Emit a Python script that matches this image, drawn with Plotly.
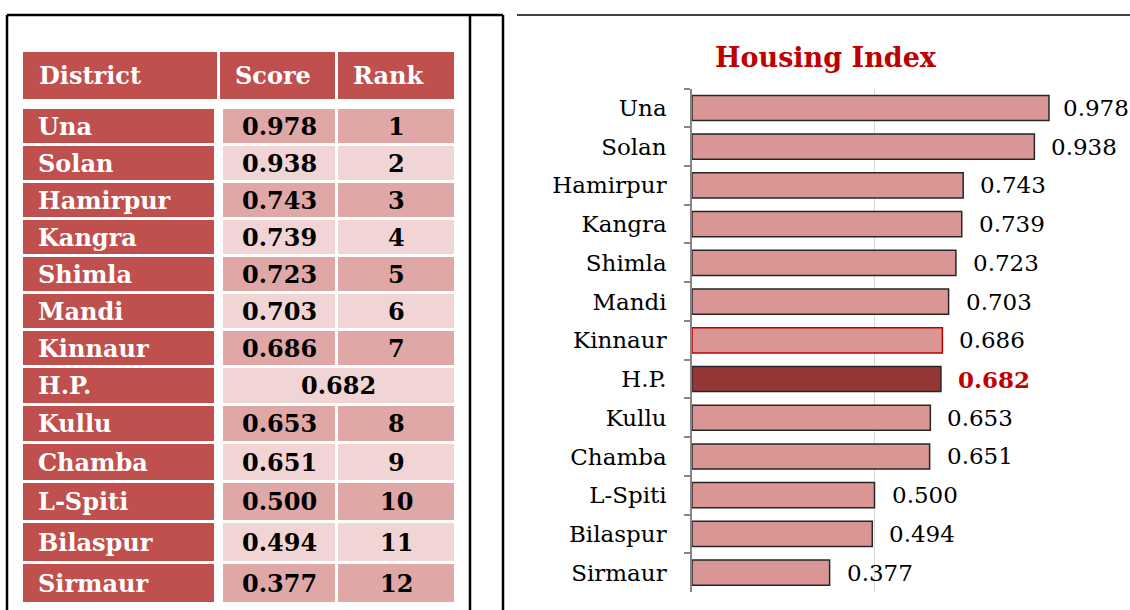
import plotly.graph_objects as go

# ---------------- data ----------------
districts = ["Una", "Solan", "Hamirpur", "Kangra", "Shimla", "Mandi", "Kinnaur",
             "H.P.", "Kullu", "Chamba", "L-Spiti", "Bilaspur", "Sirmaur"]
scores = [0.978, 0.938, 0.743, 0.739, 0.723, 0.703, 0.686,
          0.682, 0.653, 0.651, 0.500, 0.494, 0.377]
ranks = ["1", "2", "3", "4", "5", "6", "7", "", "8", "9", "10", "11", "12"]
headers = ["District", "Score", "Rank"]
state_label = "H.P."
outlined_district = "Kinnaur"
chart_title = "Housing Index"

# ---------------- styles ----------------
W, H = 1130, 610
FONT = "DejaVu Serif"
RED_HDR = "#C0504D"
CELL_DARK = "#DFA7A6"
CELL_LIGHT = "#F0D5D4"
BAR_FILL = "#D99694"
BAR_STATE = "#953735"
TITLE_RED = "#C00000"

# table layout (pixel units on a hidden full-page axis)
HDR_TOP, HDR_BOT = 52, 99
HDR_COLS = [(23, 217), (220, 335), (338, 454)]
ROW_COLS = [(23, 214), (223, 335), (338, 454)]
ROW_TOPS = [109, 146, 183, 220, 257, 294, 331, 368, 406, 444, 483, 523, 564]
TABLE_BOTTOM = 602
ROW_GAP = 3

# bar-chart plot area (pixels)
PX_L, PX_R = 692, 1057
PY_T, PY_B = 88.6, 592

fig = go.Figure()

bar_colors = [BAR_STATE if d == state_label else BAR_FILL for d in districts]
line_colors = ["#C00000" if d == outlined_district else "#262626" for d in districts]

fig.add_trace(go.Bar(
    x=scores, y=districts, orientation="h", xaxis="x", yaxis="y",
    marker=dict(color=bar_colors, line=dict(color=line_colors, width=1.5)),
    hoverinfo="x+y", showlegend=False,
))

# value labels
for d, s in zip(districts, scores):
    is_state = d == state_label
    fig.add_annotation(
        x=s, y=d, xref="x", yref="y", text=f"{s:.3f}", showarrow=False,
        xanchor="left", xshift=12 if s > 0.95 else 15,
        font=dict(family=FONT, size=23, color=TITLE_RED if is_state else "black",
                  weight="bold" if is_state else "normal"),
    )

# ---------------- table ----------------
shapes = []
for (x0, x1), h in zip(HDR_COLS, headers):
    shapes.append(dict(type="rect", xref="x2", yref="y2", x0=x0, x1=x1,
                       y0=HDR_TOP, y1=HDR_BOT, fillcolor=RED_HDR, line=dict(width=0)))
    fig.add_annotation(x=x0 + (14 if h == "District" else 13), y=(HDR_TOP + HDR_BOT) / 2,
                       xref="x2", yref="y2", text=h, showarrow=False, xanchor="left",
                       font=dict(family=FONT, size=24, color="white", weight="bold"))

row_bottoms = [t - ROW_GAP for t in ROW_TOPS[1:]] + [TABLE_BOTTOM]
for i, (d, s, r) in enumerate(zip(districts, scores, ranks)):
    y0 = ROW_TOPS[i]
    y1 = row_bottoms[i]
    yc = (y0 + y1) / 2
    fill = CELL_DARK if i % 2 == 0 else CELL_LIGHT
    (dx0, dx1), (sx0, sx1), (rx0, rx1) = ROW_COLS
    shapes.append(dict(type="rect", xref="x2", yref="y2", x0=dx0, x1=dx1, y0=y0, y1=y1,
                       fillcolor=RED_HDR, line=dict(width=0)))
    fig.add_annotation(x=dx0 + 13, y=yc, xref="x2", yref="y2", text=d, showarrow=False,
                       xanchor="left",
                       font=dict(family=FONT, size=24, color="white", weight="bold"))
    cell_font = dict(family=FONT, size=24, color="black", weight="bold")
    if d == state_label:
        shapes.append(dict(type="rect", xref="x2", yref="y2", x0=sx0, x1=rx1, y0=y0, y1=y1,
                           fillcolor=fill, line=dict(width=0)))
        fig.add_annotation(x=(sx0 + rx1) / 2, y=yc, xref="x2", yref="y2", text=f"{s:.3f}",
                           showarrow=False, font=cell_font)
    else:
        for (cx0, cx1), txt in (((sx0, sx1), f"{s:.3f}"), ((rx0, rx1), r)):
            shapes.append(dict(type="rect", xref="x2", yref="y2", x0=cx0, x1=cx1,
                               y0=y0, y1=y1, fillcolor=fill, line=dict(width=0)))
            fig.add_annotation(x=(cx0 + cx1) / 2, y=yc, xref="x2", yref="y2", text=txt,
                               showarrow=False, font=cell_font)

# frame lines
frame = [((7, 15), (503, 15), 2.5), ((7, 15), (7, H), 2.5), ((470, 15), (470, H), 2.5),
         ((503, 15), (503, H), 2.5), ((517, 15), (W, 15), 1.5)]
for (xa, ya), (xb, yb), w in frame:
    shapes.append(dict(type="line", xref="x2", yref="y2", x0=xa, y0=ya, x1=xb, y1=yb,
                       line=dict(color="black", width=w)))

# chart title
fig.add_annotation(x=826, y=57, xref="x2", yref="y2", text=chart_title,
                   showarrow=False,
                   font=dict(family=FONT, size=27, color=TITLE_RED, weight="bold"))

fig.update_layout(
    width=W, height=H, margin=dict(l=0, r=0, t=0, b=0, pad=0),
    paper_bgcolor="white", plot_bgcolor="rgba(0,0,0,0)",
    bargap=0.35, shapes=shapes,
    xaxis=dict(domain=[PX_L / W, PX_R / W], range=[0, 1.0], dtick=0.5, anchor="y",
               showgrid=True, gridcolor="#D9D9D9", gridwidth=1, zeroline=False,
               showticklabels=False, showline=False, fixedrange=True),
    yaxis=dict(domain=[1 - PY_B / H, 1 - PY_T / H], autorange="reversed", anchor="x",
               showline=True, linecolor="#868686", linewidth=1.5,
               ticks="outside", tickson="boundaries", ticklen=6, tickcolor="#868686",
               tickwidth=1.5, ticklabelstandoff=19,
               tickfont=dict(family=FONT, size=23, color="black"), fixedrange=True),
    xaxis2=dict(domain=[0, 1], range=[0, W], visible=False, anchor="y2",
                showgrid=False, zeroline=False, fixedrange=True),
    yaxis2=dict(domain=[0, 1], range=[H, 0], visible=False, anchor="x2",
                showgrid=False, zeroline=False, fixedrange=True),
)

fig.write_html("out.html",
               config={"displayModeBar": False},
               post_script="document.body.style.margin='0px';"
                           "document.body.style.overflow='hidden';")
